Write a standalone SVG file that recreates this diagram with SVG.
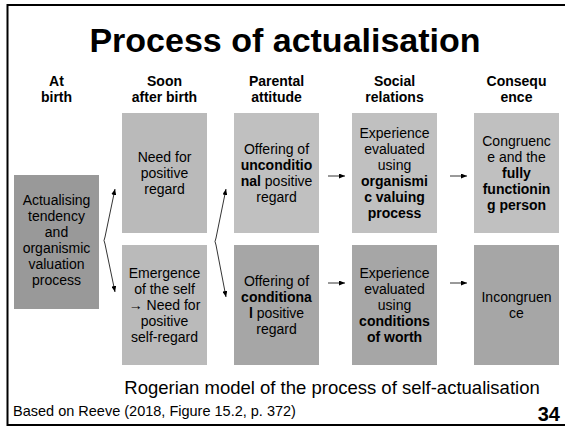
<svg xmlns="http://www.w3.org/2000/svg" width="565" height="426" viewBox="0 0 565 426">
<defs>
<style>
text{font-family:"Liberation Sans",Arial,sans-serif;fill:#000;text-anchor:middle}
.t{font-size:34px;font-weight:bold}
.h{font-size:14px;font-weight:bold}
.b{font-size:14px}
.bb{font-weight:bold}
.c{fill:none;stroke:#000;stroke-width:0.8}
</style>
<marker id="ah" markerWidth="6" markerHeight="5" refX="6" refY="2.5" orient="auto-start-reverse" markerUnits="userSpaceOnUse"><path d="M0,0 L6,2.5 L0,5 z" fill="#000"/></marker>
</defs>
<rect width="565" height="426" fill="#fff"/>
<path d="M566,5 H7.5 V425 H566" fill="none" stroke="#000" stroke-width="2"/>
<text class="t" x="285" y="52">Process of actualisation</text>
<g id="headers">
<text class="h" x="56.5" y="86">At</text><text class="h" x="56.5" y="102">birth</text>
<text class="h" x="164.5" y="86">Soon</text><text class="h" x="164.5" y="102">after birth</text>
<text class="h" x="276.5" y="86">Parental</text><text class="h" x="276.5" y="102">attitude</text>
<text class="h" x="394.5" y="86">Social</text><text class="h" x="394.5" y="102">relations</text>
<text class="h" x="516.5" y="86">Consequ</text><text class="h" x="516.5" y="102">ence</text>
</g>
<g id="n-actualising">
<rect x="14" y="175" width="85" height="134" fill="#999"/>
<text class="b" x="56.5" y="205">Actualising</text>
<text class="b" x="56.5" y="221">tendency</text>
<text class="b" x="56.5" y="237">and</text>
<text class="b" x="56.5" y="253">organismic</text>
<text class="b" x="56.5" y="269">valuation</text>
<text class="b" x="56.5" y="285">process</text>
</g>
<g id="n-need">
<rect x="122" y="113" width="85" height="120" fill="#bababa"/>
<text class="b" x="164.5" y="162">Need for</text>
<text class="b" x="164.5" y="178">positive</text>
<text class="b" x="164.5" y="194">regard</text>
</g>
<g id="n-emergence">
<rect x="122" y="245" width="85" height="120" fill="#bababa"/>
<text class="b" x="164.5" y="278">Emergence</text>
<text class="b" x="164.5" y="294">of the self</text>
<text class="b" x="164.5" y="310">→ Need for</text>
<text class="b" x="164.5" y="326">positive</text>
<text class="b" x="164.5" y="342">self-regard</text>
</g>
<g id="n-unconditional">
<rect x="234" y="113" width="85" height="120" fill="#c0c0c0"/>
<text class="b" x="276.5" y="154">Offering of</text>
<text class="b bb" x="276.5" y="170">unconditio</text>
<text class="b" x="276.5" y="186"><tspan class="bb">nal</tspan> positive</text>
<text class="b" x="276.5" y="202">regard</text>
</g>
<g id="n-conditional">
<rect x="234" y="245" width="85" height="120" fill="#a6a6a6"/>
<text class="b" x="276.5" y="286">Offering of</text>
<text class="b bb" x="276.5" y="302">conditiona</text>
<text class="b" x="276.5" y="318"><tspan class="bb">l</tspan> positive</text>
<text class="b" x="276.5" y="334">regard</text>
</g>
<g id="n-organismic">
<rect x="352" y="113" width="85" height="120" fill="#c0c0c0"/>
<text class="b" x="394.5" y="138">Experience</text>
<text class="b" x="394.5" y="154">evaluated</text>
<text class="b" x="394.5" y="170">using</text>
<text class="b bb" x="394.5" y="186">organismi</text>
<text class="b bb" x="394.5" y="202">c valuing</text>
<text class="b bb" x="394.5" y="218">process</text>
</g>
<g id="n-worth">
<rect x="352" y="245" width="85" height="120" fill="#a6a6a6"/>
<text class="b" x="394.5" y="278">Experience</text>
<text class="b" x="394.5" y="294">evaluated</text>
<text class="b" x="394.5" y="310">using</text>
<text class="b bb" x="394.5" y="326">conditions</text>
<text class="b bb" x="394.5" y="342">of worth</text>
</g>
<g id="n-congruence">
<rect x="474" y="113" width="85" height="120" fill="#c0c0c0"/>
<text class="b" x="516.5" y="146">Congruenc</text>
<text class="b" x="516.5" y="162">e and the</text>
<text class="b bb" x="516.5" y="178">fully</text>
<text class="b bb" x="516.5" y="194">functionin</text>
<text class="b bb" x="516.5" y="210">g person</text>
</g>
<g id="n-incongruence">
<rect x="474" y="245" width="85" height="120" fill="#a6a6a6"/>
<text class="b" x="516.5" y="302">Incongruen</text>
<text class="b" x="516.5" y="318">ce</text>
</g>
<g id="connectors">
<path class="c" d="M115,189 L105,237 Q103,240.5 105,244 L115,292" marker-start="url(#ah)" marker-end="url(#ah)"/>
<path class="c" d="M226,189 L216,238 Q214,241.5 216,245 L226,297" marker-start="url(#ah)" marker-end="url(#ah)"/>
<path class="c" d="M328,176 H345" marker-end="url(#ah)"/>
<path class="c" d="M450,176 H467" marker-end="url(#ah)"/>
<path class="c" d="M328,283 H345" marker-end="url(#ah)"/>
<path class="c" d="M450,283 H467" marker-end="url(#ah)"/>
</g>
<text x="332" y="394" style="font-size:18.5px">Rogerian model of the process of self-actualisation</text>
<text x="13" y="416" style="font-size:14.5px;text-anchor:start">Based on Reeve (2018, Figure 15.2, p. 372)</text>
<text x="560" y="421" style="font-size:20px;font-weight:bold;text-anchor:end">34</text>
</svg>
